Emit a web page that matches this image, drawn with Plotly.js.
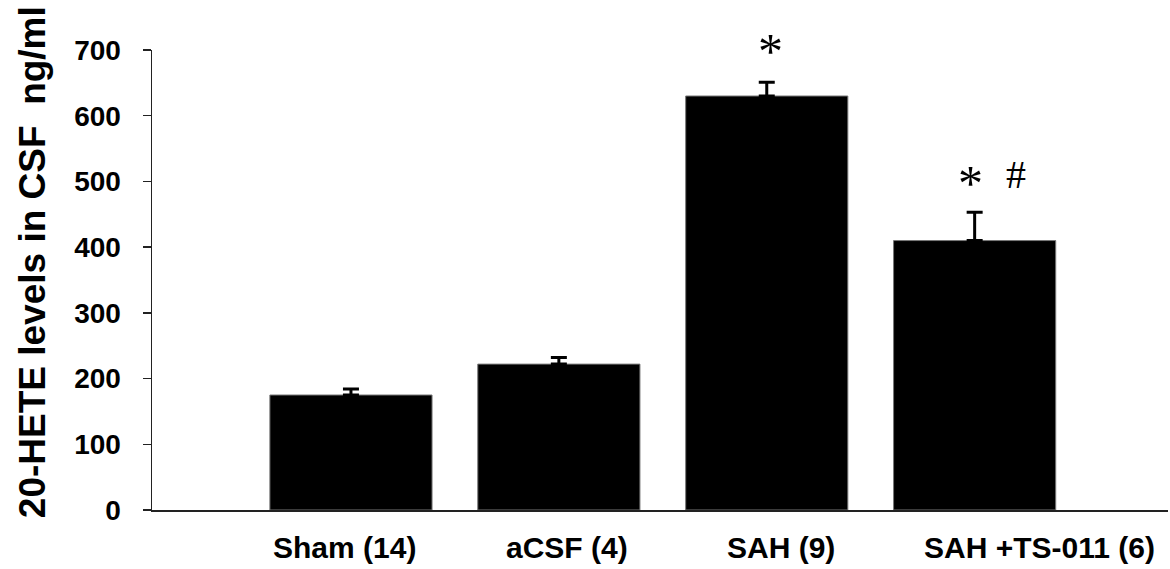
<!DOCTYPE html>
<html><head><meta charset="utf-8">
<script src="https://cdn.plot.ly/plotly-3.0.1.min.js"></script>
<style>body{margin:0;background:#fff}#chart{width:1170px;height:569px}</style>
</head><body><div id="chart"></div>
<script>
const categories = ["Sham (14)", "aCSF (4)", "SAH (9)", "SAH +TS-011 (6)"];
const means = [175, 222, 630, 410];
const sem = [9, 10, 21, 43];
const marks = [
  {cat: 2, text: "*", value: 709},
  {cat: 3, text: "*", value: 508},
  {cat: 3, text: "#", value: 510}
];
const yTicks = [0, 100, 200, 300, 400, 500, 600, 700];
const yTitle = "20-HETE levels in CSF  ng/ml";

const yMax = 700;
const idx = categories.map((c, i) => i);
const labelShift = [-0.03, 0.04, 0.07, 0.31];
const markShift = [0.02, -0.02, 0.2];

const trace = {
  type: 'bar', x: idx, y: means, width: 0.78,
  marker: {color: '#000', line: {color: '#777', width: 1}},
  error_y: {type: 'data', symmetric: false, array: sem, arrayminus: sem.map(() => 0),
            color: '#000', thickness: 3, width: 8}
};

const annotations = [];
categories.forEach((c, i) => annotations.push({
  text: c, xref: 'x', yref: 'paper', x: i + labelShift[i], y: -0.0815,
  xanchor: 'center', yanchor: 'middle', showarrow: false,
  font: {family: 'Liberation Sans, Arial, sans-serif', size: 30, color: '#000', weight: 'bold'}
}));
marks.forEach((m, k) => annotations.push({
  text: m.text, xref: 'x', yref: 'paper', x: m.cat + markShift[k], y: m.value / yMax,
  xanchor: 'center', yanchor: 'middle', showarrow: false,
  yshift: m.text === '#' ? 0 : -7,
  font: {family: 'Liberation Serif, serif', size: m.text === '#' ? 40 : 50, color: '#000'}
}));
annotations.push({
  text: yTitle, xref: 'paper', yref: 'paper', x: -0.118, y: 0.539, textangle: -90,
  xanchor: 'center', yanchor: 'middle', showarrow: false,
  font: {family: 'Liberation Sans, Arial, sans-serif', size: 37, color: '#000', weight: 'bold'}
});

const layout = {
  width: 1170, height: 569,
  margin: {l: 152, r: 2, t: 50, b: 59},
  paper_bgcolor: '#fff', plot_bgcolor: '#fff',
  showlegend: false,
  xaxis: {range: [-0.957, 3.93], showticklabels: false, showline: true, linecolor: '#222', linewidth: 1.5,
          ticks: '', showgrid: false, zeroline: false, fixedrange: true},
  yaxis: {range: [0, yMax], tickvals: yTicks, ticks: 'outside', ticklen: 8, tickwidth: 1.5, tickcolor: '#222',
          showline: true, linecolor: '#222', linewidth: 1.5, showgrid: false, zeroline: false,
          tickfont: {family: 'Liberation Sans, Arial, sans-serif', size: 28, color: '#000', weight: 'bold'},
          ticklabelstandoff: 16},
  annotations: annotations
};
Plotly.newPlot('chart', [trace], layout, {displayModeBar: false, staticPlot: true});
</script></body></html>
